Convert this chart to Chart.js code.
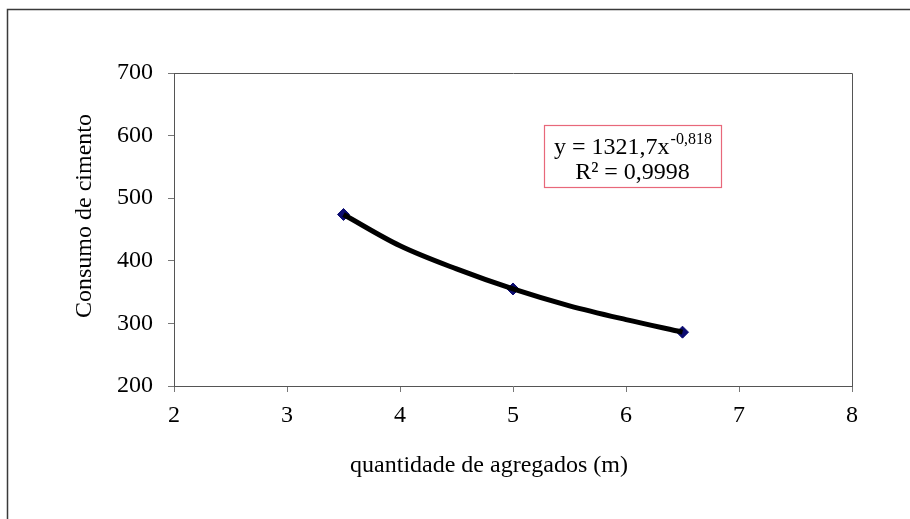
<!DOCTYPE html>
<html>
<head>
<meta charset="utf-8">
<script src="https://cdn.jsdelivr.net/npm/chart.js@4.4.1/dist/chart.umd.min.js"></script>
<style>
  html, body { margin: 0; padding: 0; background: #fff; }
  #wrap { width: 910px; height: 519px; position: relative; }
</style>
</head>
<body>
<div id="wrap"><canvas id="c"></canvas></div>
<script>
// ---- data ----
const xValues = [3.5, 5, 6.5];
const yValues = [474, 355, 286];
const trendX = [3.5, 4, 4.5, 5, 5.5, 6, 6.5];
const trendY = [474, 424, 387, 355, 328, 306, 286];
const xTicks = [2, 3, 4, 5, 6, 7, 8];
const yTicks = [200, 300, 400, 500, 600, 700];
const xTitle = 'quantidade de agregados (m)';
const yTitle = 'Consumo de cimento';
const eqMain = 'y = 1321,7x';
const eqExp = '-0,818';
const eqR2 = 'R² = 0,9998';

const FONT = '"Liberation Serif", "Times New Roman", serif';

const decor = {
  id: 'decor',
  afterDraw(chart) {
    const ctx = chart.ctx;
    const a = chart.chartArea;
    ctx.save();
    // outer frame (top + left visible)
    ctx.strokeStyle = '#3a3a3a';
    ctx.lineWidth = 1.5;
    ctx.beginPath();
    ctx.moveTo(7.5, 530);
    ctx.lineTo(7.5, 9.5);
    ctx.lineTo(920, 9.5);
    ctx.stroke();
    // plot border top/right
    ctx.strokeStyle = '#555';
    ctx.lineWidth = 1;
    ctx.beginPath();
    ctx.moveTo(Math.round(a.left) + 0.5, Math.round(a.top) + 0.5);
    ctx.lineTo(Math.round(a.right) + 0.5, Math.round(a.top) + 0.5);
    ctx.lineTo(Math.round(a.right) + 0.5, Math.round(a.bottom) + 0.5);
    ctx.stroke();
    // axis titles
    ctx.fillStyle = '#000';
    ctx.font = '24px ' + FONT;
    ctx.textAlign = 'center';
    ctx.textBaseline = 'middle';
    ctx.fillText(xTitle, 489, 466);
    ctx.save();
    ctx.translate(85, 216);
    ctx.rotate(-Math.PI / 2);
    ctx.fillText(yTitle, 0, 0);
    ctx.restore();
    // equation box
    const bx = 544, by = 125, bw = 177, bh = 62;
    ctx.strokeStyle = '#e8687a';
    ctx.lineWidth = 1.2;
    ctx.strokeRect(bx + 0.5, by + 0.5, bw, bh);
    ctx.font = '24px ' + FONT;
    const w1 = ctx.measureText(eqMain).width;
    ctx.font = '16px ' + FONT;
    const w2 = ctx.measureText(eqExp).width;
    const cx = bx + bw / 2;
    const start = cx - (w1 + w2) / 2;
    ctx.textAlign = 'left';
    ctx.textBaseline = 'alphabetic';
    ctx.font = '24px ' + FONT;
    ctx.fillText(eqMain, start, 154);
    ctx.font = '16px ' + FONT;
    ctx.fillText(eqExp, start + w1 + 1, 144);
    ctx.font = '24px ' + FONT;
    ctx.textAlign = 'center';
    ctx.fillText(eqR2, cx, 179);
    ctx.restore();
  }
};

new Chart(document.getElementById('c'), {
  type: 'scatter',
  data: {
    datasets: [
      {
        label: 'trend',
        type: 'line',
        data: trendX.map((x, i) => ({ x, y: trendY[i] })),
        borderColor: '#000',
        borderWidth: 5,
        pointRadius: 0,
        fill: false,
        tension: 0.4,
        cubicInterpolationMode: 'monotone'
      },
      {
        label: 'dados',
        data: xValues.map((x, i) => ({ x, y: yValues[i] })),
        pointStyle: 'rectRot',
        pointRadius: 6,
        backgroundColor: '#0b0b70',
        borderColor: '#0b0b70',
        borderWidth: 1
      }
    ]
  },
  options: {
    responsive: true,
    maintainAspectRatio: false,
    animation: false,
    layout: { padding: { left: 0, top: 73, right: 58, bottom: 23 } },
    plugins: { legend: { display: false }, tooltip: { enabled: false } },
    scales: {
      x: {
        type: 'linear',
        min: 2, max: 8,
        afterBuildTicks(s) { s.ticks = xTicks.map(v => ({ value: v })); },
        afterFit(s) { s.height = 110; },
        grid: { drawOnChartArea: false, drawTicks: true, tickLength: 6, color: '#777' },
        border: { display: true, color: '#555', width: 1 },
        ticks: { color: '#000', font: { family: FONT, size: 24 }, padding: 9, maxRotation: 0 },
        title: { display: false }
      },
      y: {
        type: 'linear',
        min: 200, max: 700,
        afterBuildTicks(s) { s.ticks = yTicks.map(v => ({ value: v })); },
        afterFit(s) { s.width = 174; },
        grid: { drawOnChartArea: false, drawTicks: true, tickLength: 6, color: '#777' },
        border: { display: true, color: '#555', width: 1 },
        ticks: { color: '#000', font: { family: FONT, size: 24 }, padding: 15 },
        title: { display: false }
      }
    }
  },
  plugins: [decor]
});
</script>
</body>
</html>
